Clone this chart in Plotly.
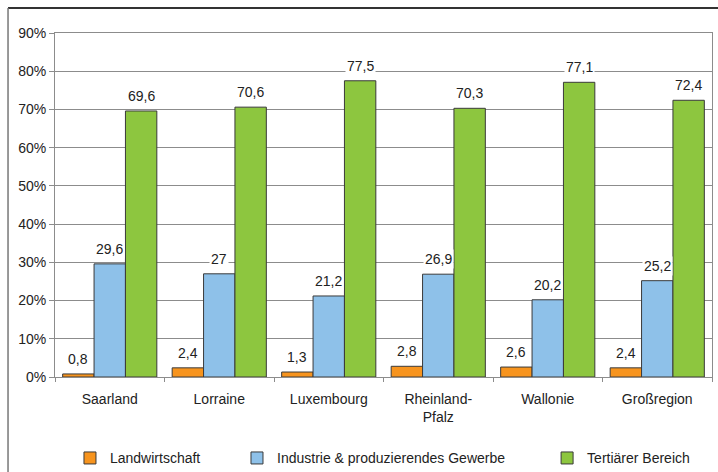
import plotly.graph_objects as go

categories = ["Saarland", "Lorraine", "Luxembourg", "Rheinland-<br>Pfalz", "Wallonie", "Großregion"]
series_names = ["Landwirtschaft", "Industrie & produzierendes Gewerbe", "Tertiärer Bereich"]
landwirtschaft = [0.8, 2.4, 1.3, 2.8, 2.6, 2.4]
industrie = [29.6, 27, 21.2, 26.9, 20.2, 25.2]
tertiaer = [69.6, 70.6, 77.5, 70.3, 77.1, 72.4]
y_ticks = [0, 10, 20, 30, 40, 50, 60, 70, 80, 90]

colors = ["#F7941E", "#8EC1E9", "#8DC63F"]
values = [landwirtschaft, industrie, tertiaer]
legend_ids = ["legend", "legend2", "legend3"]
legend_x = [0.0228, 0.277, 0.749]

FONT = "Liberation Sans, Arial, sans-serif"
FS = 14

fig = go.Figure()
for name, vals, col, lid in zip(series_names, values, colors, legend_ids):
    fig.add_trace(go.Bar(
        x=categories, y=vals, name=name, legend=lid,
        marker=dict(color=col, line=dict(color="#3a3a3a", width=1)),
    ))

def fmt(v):
    return ("%g" % v).replace(".", ",")

bar_px = 31.4
annotations = []
for k, vals in enumerate(values):
    for c, v in zip(categories, vals):
        annotations.append(dict(
            x=c, y=v, xref="x", yref="y", text=fmt(v), showarrow=False,
            xshift=(k - 1) * bar_px, yshift=5, yanchor="bottom",
            font=dict(family=FONT, size=FS, color="#222"),
            bgcolor="white", borderpad=1,
        ))

legend_common = dict(orientation="h", xanchor="left", y=-0.19, yanchor="top",
                     font=dict(family=FONT, size=FS, color="#222"),
                     bgcolor="rgba(0,0,0,0)")

fig.update_layout(
    width=718, height=472,
    margin=dict(l=55, r=6, t=33, b=95, autoexpand=False),
    paper_bgcolor="white", plot_bgcolor="white",
    barmode="group", bargap=0.14, bargroupgap=0,
    font=dict(family=FONT, size=FS, color="#222"),
    showlegend=True,
    legend=dict(x=legend_x[0], **legend_common),
    legend2=dict(x=legend_x[1], **legend_common),
    legend3=dict(x=legend_x[2], **legend_common),
    annotations=annotations,
    xaxis=dict(type="category", showline=True, linecolor="#8c8c8c", linewidth=1, mirror=True,
               ticks="outside", tickson="boundaries", ticklen=4, tickcolor="#8c8c8c",
               ticklabelstandoff=9,
               tickfont=dict(family=FONT, size=FS, color="#222"), showgrid=False),
    yaxis=dict(range=[0, 90], tickvals=y_ticks, ticktext=[f"{t}%" for t in y_ticks],
               showline=True, linecolor="#8c8c8c", linewidth=1, mirror=True,
               ticks="outside", ticklen=5, tickcolor="#8c8c8c",
               showgrid=True, gridcolor="#8c8c8c", gridwidth=1, zeroline=False,
               tickfont=dict(family=FONT, size=FS, color="#222")),
    shapes=[
        dict(type="line", xref="paper", yref="paper", x0=-0.0715, x1=1.01, y0=1.0727, y1=1.0727,
             line=dict(color="#333", width=2)),
        dict(type="line", xref="paper", yref="paper", x0=-0.0715, x1=-0.0715, y0=-0.28, y1=1.0727,
             line=dict(color="#777", width=1.5)),
    ],
)

fig.write_html("out.html")
